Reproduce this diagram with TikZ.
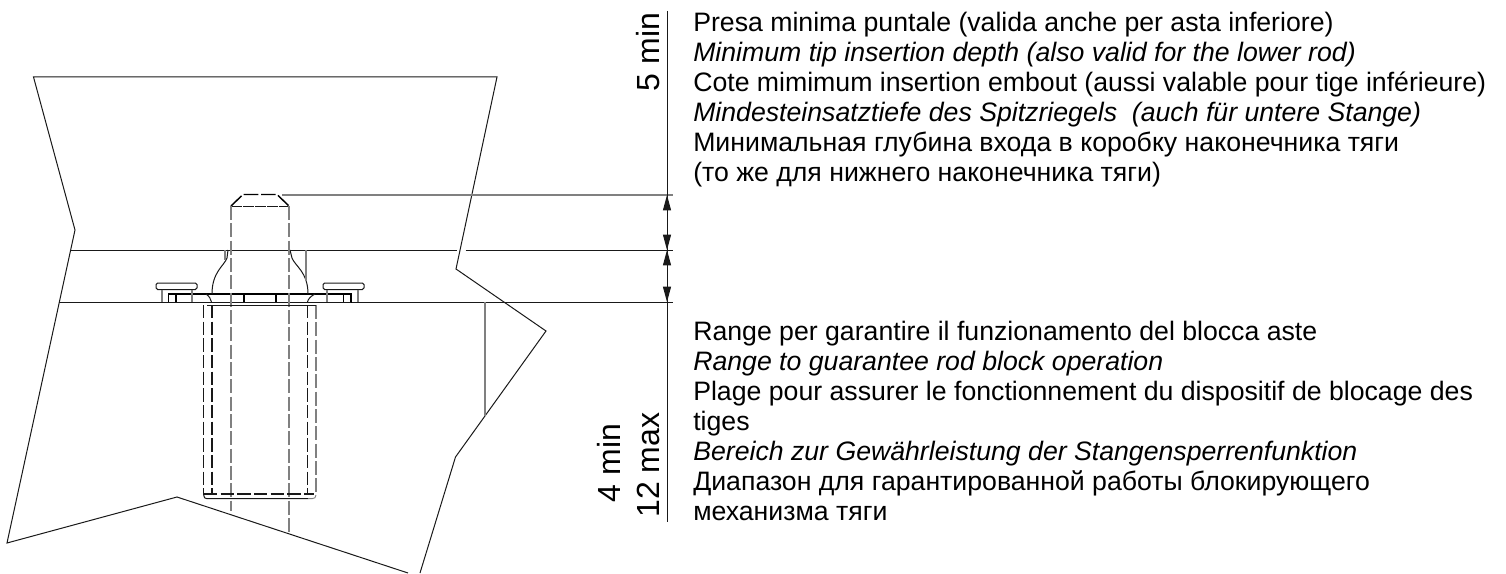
\documentclass[tikz,border=0pt]{standalone}
\usepackage{fontspec}
\setmainfont{Liberation Sans}
\usetikzlibrary{arrows.meta}
\tikzset{
  outline/.style={line width=0.75pt,black!90},
  heavy/.style={line width=1.1pt,black},
  hairgray/.style={line width=1.1pt,black!50},
  hidden/.style={line width=0.85pt,black!90,dash pattern=on 10pt off 2.5pt},
  hiddengray/.style={line width=1.1pt,black!50,dash pattern=on 10.5pt off 2.5pt},
  dimtip/.style={{Triangle[length=11.5pt,width=6pt]}-{Triangle[length=11.5pt,width=6pt]}},
  note/.style={anchor=north west,align=left,inner sep=0pt,font=\fontsize{20}{22.4}\selectfont},
  dimtext/.style={rotate=90,inner sep=0pt,font=\fontsize{24}{24}\selectfont}
}
\begin{document}
\begin{tikzpicture}[x=0.75pt,y=-0.75pt]
        \useasboundingbox (0,0) rectangle (1506,574);
        % Draw frame outline
        \draw[outline] (408,573) -- (177,497) -- (7,543) -- (75,230) -- (33.5,77) -- (497,77)
        -- (456,269) -- (546,331) -- (455.5,457) -- (420,573);
        \draw[outline] (71,250) -- (457,250);
        \draw[outline] (465.5,250) -- (673,250);
        \draw[outline] (59,302) -- (673,302);
        \draw[hairgray] (485,302) -- (485,416);
        % Draw flange
        \draw[heavy] (168.3,302.5) -- (168.3,294) -- (351,294) -- (351,302.5);
        \draw[outline] (168.3,302.5) -- (207,302.5);
        \draw[outline] (312,302.5) -- (351,302.5);
        \foreach \x in {176, 244, 276, 343.5}
        \draw[heavy,xshift=\x*0.75pt] (0,294) -- (0,302);
        % Draw screw heads
        \foreach \x in {156, 323}
        \draw[outline,xshift=\x*0.75pt,rounded corners=1.2pt] (0,283) rectangle (41,289.5);
        \foreach \x in {162, 192, 327, 358}
        \draw[hairgray,xshift=\x*0.75pt] (0,289.5) -- (0,302);
        % Draw boss
        \draw[outline] (228,250) -- (227,258) .. controls (224,266) and (212,272) .. (212,294);
        \draw[outline] (290,250) -- (292,258) .. controls (295,266) and (308,272) .. (308,294);
        \draw[hairgray] (225,250) -- (225,260);
        \draw[hairgray] (306,250) -- (306,281);
        \draw[outline] (206,294) .. controls (209,296) and (211,299) .. (211.5,302);
        \draw[outline] (315,294) .. controls (311,296) and (308,299) .. (307.5,302);
        % Draw rod
        \draw[heavy,dash pattern=on 11pt off 2pt] (231,206) -- (243,194.5) -- (277,194.5) -- (289,206);
        \draw[outline,dash pattern=on 8pt off 1pt] (231,206) -- (289,206);
        \foreach \x/\yend in {231/511, 289/533}
        \draw[hiddengray] (\x,206) -- (\x,\yend);
        % Draw threaded hole
        \draw[hidden] (203.7,305) -- (203.7,495);
        \draw[hidden] (212,305) -- (212,494);
        \draw[hidden] (307.3,305) -- (307.3,494);
        \draw[hiddengray] (316,305) -- (316,495);
        \draw[outline] (207,305) -- (316,305);
        \draw[hidden] (204,494) -- (314,494);
        \draw[outline] (203.7,495) .. controls (203.7,497.5) and (205,498.7) .. (207,498.7) -- (308,498.7);
        \draw[hairgray,line width=0.7pt] (308,498.7) -- (312,498.7) .. controls (314.5,498.7) and (316,497.5) .. (316,495);
        % Draw dimensions
        \draw[hairgray] (282,195) -- (673,195);
        \draw[outline] (667,11) -- (667,522);
        \draw[outline,dimtip] (667,195) -- (667,250);
        \draw[outline,dimtip] (667,250) -- (667,302);
        \node[dimtext] (fivemin) at (648,52) {5 min};
        \node[dimtext] (twelvemax) at (648,465) {12 max};
        \node[dimtext] (fourmin) at (609,463) {4 min};
        % Draw notes
        \node[note] (insertion) at (693,12.3) {Presa minima puntale (valida anche per asta inferiore)\\
        \textit{Minimum tip insertion depth (also valid for the lower rod)}\\
        Cote mimimum insertion embout (aussi valable pour tige inférieure)\\
        \textit{Mindesteinsatztiefe des Spitzriegels\ \ (auch für untere Stange)}\\
        Минимальная глубина входа в коробку наконечника тяги\\
        (то же для нижнего наконечника тяги)};
        \node[note] (range) at (693,321.3) {Range per garantire il funzionamento del blocca aste\\
        \textit{Range to guarantee rod block operation}\\
        Plage pour assurer le fonctionnement du dispositif de blocage des\\
        tiges\\
        \textit{Bereich zur Gewährleistung der Stangensperrenfunktion}\\
        Диапазон для гарантированной работы блокирующего\\
        механизма тяги};
    \end{tikzpicture}
\end{document}
